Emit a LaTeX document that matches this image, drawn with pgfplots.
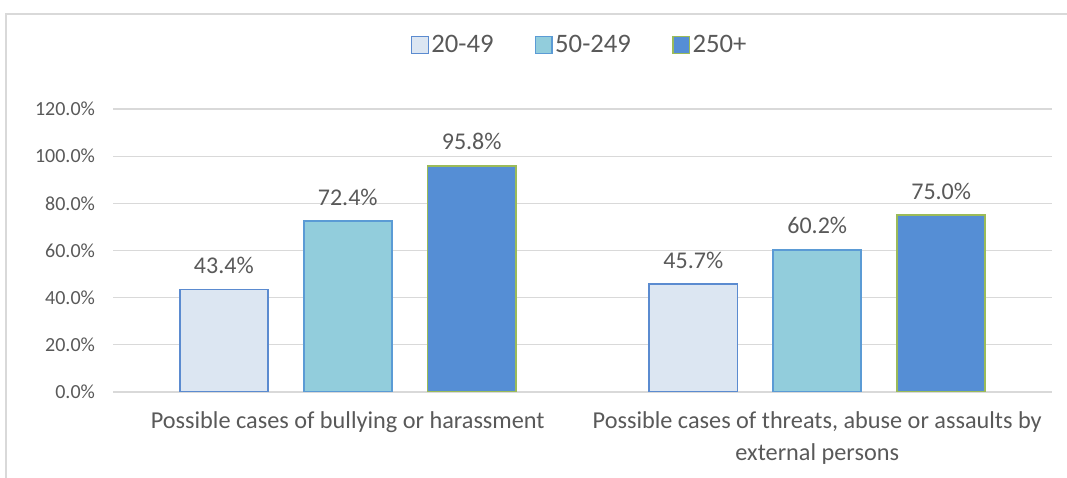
\documentclass[border=0pt]{standalone}
\usepackage{fontspec}
\setmainfont{Carlito}
\usepackage{pgfplots}
\pgfplotsset{compat=1.18}
\definecolor{txt}{HTML}{595959}
\definecolor{gridc}{HTML}{D9D9D9}
\definecolor{fA}{HTML}{DCE6F2}
\definecolor{dA}{HTML}{5B8BD0}
\definecolor{fB}{HTML}{92CDDC}
\definecolor{dB}{HTML}{5B9BD5}
\definecolor{fC}{HTML}{558ED5}
\definecolor{dC}{HTML}{9BBB59}
\begin{document}
\begin{tikzpicture}
\useasboundingbox (0,0) rectangle (800.25pt,358.5pt);
\draw[gridc, line width=1.1pt] (4.5pt,0) -- (4.5pt,348pt) -- (800.25pt,348pt);
\begin{axis}[
  at={(84.75pt,64.5pt)}, anchor=south west,
  scale only axis, width=704.25pt, height=212.25pt,
  xmin=-0.5, xmax=1.5, ymin=0, ymax=120,
  ybar, bar width=0.1876, bar shift=0pt,
  axis line style={draw=none}, tick style={draw=none},
  major tick length=0pt,
  ymajorgrids, grid style={gridc, line width=0.9pt},
  ytick={0,20,...,120},
  /pgf/number format/assume math mode=true,
  yticklabel={\pgfmathprintnumber[fixed,fixed zerofill,precision=1]{\tick}\%},
  yticklabel style={font=\fontsize{15}{18}\selectfont, text=txt, anchor=east, xshift=-10pt},
  xtick={0,1},
  xticklabels={Possible cases of bullying or harassment, {Possible cases of threats, abuse or assaults by\\external persons}},
  xticklabel style={font=\fontsize{18.2}{24}\selectfont, text=txt, align=center, anchor=north, yshift=-11pt},
  nodes near coords={\pgfmathprintnumber[fixed,fixed zerofill,precision=1]{\pgfplotspointmeta}\%},
  nodes near coords style={font=\fontsize{18}{20}\selectfont, text=txt, anchor=south, yshift=8pt},
  legend columns=-1,
  legend style={at={(0.5,1)}, anchor=center, yshift=48pt, xshift=-2pt, draw=none, fill=none,
    font=\fontsize{20}{22}\selectfont, text=txt,
    nodes={inner sep=1.8pt},
    /tikz/every even column/.append style={column sep=29pt}},
  legend image code/.code={\draw[#1, line width=1.1pt] (0pt,-6.2pt) rectangle (12.5pt,6.2pt);},
]
\addplot[fill=fA, draw=dA, line width=1.2pt] coordinates {(-0.264,43.4) (0.736,45.7)};
\addplot[fill=fB, draw=dB, line width=1.2pt] coordinates {(0,72.4) (1,60.2)};
\addplot[fill=fC, draw=dC, line width=1.2pt] coordinates {(0.264,95.8) (1.264,75.0)};
\legend{20-49,50-249,250+}
\end{axis}
\end{tikzpicture}
\end{document}
